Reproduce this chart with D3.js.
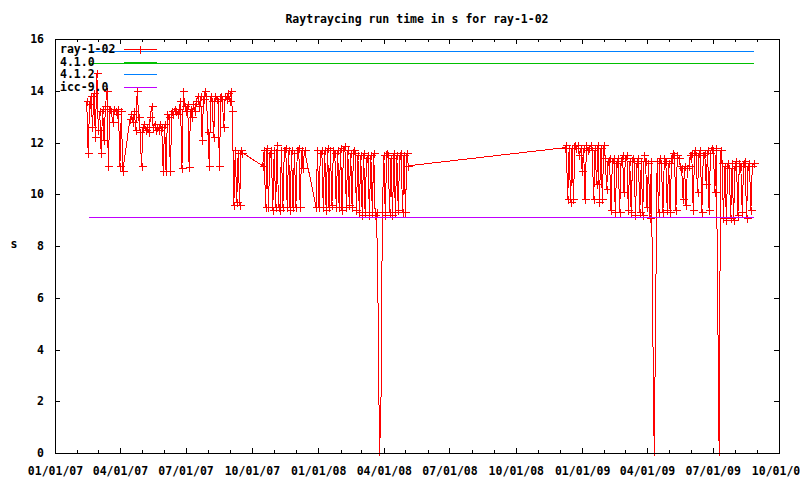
<!DOCTYPE html>
<html>
<head>
<meta charset="utf-8">
<script src="https://cdn.jsdelivr.net/npm/d3@7"></script>
<style>
  body { margin: 0; background: #fff; }
  svg { display: block; }
  text { font-family: "DejaVu Sans Mono", "Liberation Mono", monospace; font-size: 11.5px; font-weight: bold; fill: #000; }
  .axis path, .axis line { stroke: #000; shape-rendering: crispEdges; }
</style>
</head>
<body>
<div id="chart"></div>
<script>
// nightly runs, one value every 2 days inside each block
var blockStarts = ["2007-02-14", "2007-04-15", "2007-10-16", "2007-12-29", "2008-12-08"];
var stepDays = 2;

var runsA1 = [13.6, 11.6, 13.5, 13.8, 12.6, 13.9, 12.2, 14.7, 12.5, 13.2, 11.6, 13.3, 12.1,
  13.4, 14.0, 11.1, 13.3, 13.2, 12.8, 13.3, 13.2, 13.1, 13.3, 11.1, 13.2, 10.9];

var runsA2 = [12.9, 13.1, 12.8, 13.2, 12.5, 14.0, 13.0, 12.4, 11.1, 12.6, 12.7, 12.5, 12.6,
  12.4, 13.0, 13.4, 12.6, 12.7, 12.5, 12.6, 12.5, 12.7, 12.6, 10.9, 12.7, 10.9, 13.1,
  13.0, 10.9, 13.2, 13.1, 13.3, 13.2, 13.1, 13.3, 13.6, 11.0, 14.0, 13.4, 13.2, 13.5,
  11.05, 13.3, 13.0, 13.5, 13.2, 13.6, 13.8, 13.4, 13.8, 12.1, 13.7, 14.0, 13.8, 12.4,
  11.1, 13.8, 13.6, 12.2, 13.8, 13.7, 13.6, 11.1, 13.8, 13.7, 12.6, 13.8, 13.7, 13.9,
  13.6, 14.0, 13.2, 9.6, 11.7, 9.7, 11.6, 9.6, 11.7, 11.6];

var runsB = [11.1, 11.7, 9.5, 11.8, 9.5, 11.6, 11.7, 9.4, 11.7, 9.5, 11.9, 9.5, 9.4, 11.7,
  9.5, 11.7, 11.8, 9.5, 11.7, 9.4, 11.7, 9.5, 11.6, 9.5, 11.7, 11.8, 9.5, 11.7, 11.0, 11.7];

var runsC = [9.5, 11.7, 9.5, 11.6, 11.7, 9.5, 11.7, 9.4, 11.8, 9.5, 11.7, 9.6, 11.7, 11.6,
  9.5, 11.7, 9.5, 11.8, 9.4, 11.7, 11.85, 9.5, 11.7, 9.6, 11.6, 9.5, 11.7, 11.6, 9.4,
  11.5, 9.3, 11.5, 9.2, 11.6, 9.3, 11.4, 11.5, 9.2, 11.5, 9.3, 11.6, 9.2, 9.3, 5.7,
  -0.1, 1.8, 9.3, 11.5, 9.2, 11.6, 11.5, 9.3, 11.4, 9.2, 11.6, 9.3, 11.5, 9.4, 11.5,
  11.6, 9.3, 11.5, 9.3, 11.6, 11.1];

var runsD = [11.8, 11.9, 9.8, 11.8, 9.7, 11.8, 9.8, 11.9, 11.8, 11.9, 11.5, 11.8, 10.9,
  11.8, 9.8, 11.9, 11.7, 11.8, 11.9, 11.7, 9.8, 11.8, 10.4, 11.9, 9.7, 11.8, 9.8, 11.9,
  11.4, 10.2, 11.3, 11.4, 9.4, 11.3, 11.4, 9.3, 11.2, 11.4, 9.3, 11.3, 11.5, 10.1, 11.4,
  11.5, 9.4, 11.3, 9.3, 11.4, 11.3, 9.2, 11.2, 11.4, 9.3, 11.3, 9.2, 11.5, 11.3, 9.5,
  11.2, 9.1, 11.3, 4.8, -0.1, 5.6, 11.3, 9.3, 11.4, 11.2, 9.3, 11.4, 11.3, 9.4, 11.2,
  9.3, 11.4, 11.6, 11.5, 9.4, 11.5, 11.4, 11.1, 11.0, 9.8, 11.1, 9.6, 11.0, 11.1, 11.5,
  11.6, 9.4, 11.7, 11.5, 10.1, 11.6, 11.7, 9.3, 11.5, 11.6, 10.4, 11.7, 9.4, 11.6, 11.8,
  11.7, 10.1, 11.8, 5.8, -0.1, 11.7, 11.2, 9.1, 11.1, 9.0, 11.2, 11.0, 9.1, 11.2, 9.0,
  11.1, 11.3, 9.2, 11.2, 11.1, 9.3, 11.2, 11.3, 9.1, 11.1, 11.2, 9.4, 11.1, 11.2];

var runBlocks = [runsA1, runsA2, runsB, runsC, runsD];

// compiler reference times (constant lines)
var refNames = ["4.1.0", "4.1.2", "icc-9.0"];
var refValues = [15.07, 15.52, 9.11];
var refRange = ["2007-02-17", "2009-08-27"];

var legendNames = ["ray-1-02", "4.1.0", "4.1.2", "icc-9.0"];
var colors = ["#ff0000", "#00c000", "#0080ff", "#c000ff"];

var xTicks = ["2007-01-01", "2007-04-01", "2007-07-01", "2007-10-01", "2008-01-01", "2008-04-01",
  "2008-07-01", "2008-10-01", "2009-01-01", "2009-04-01", "2009-07-01", "2009-10-01"];
var yTicks = [0, 2, 4, 6, 8, 10, 12, 14, 16];

var parse = d3.timeParse("%Y-%m-%d");

var width = 800, height = 480;
var margin = { top: 39, right: 21, bottom: 27, left: 55 };

var x = d3.scaleTime()
  .domain([parse("2007-01-01"), parse("2009-10-01")])
  .range([margin.left, width - margin.right]);

var y = d3.scaleLinear()
  .domain([0, 16])
  .range([height - margin.bottom, margin.top]);

var runData = [];
runBlocks.forEach(function (vals, b) {
  var start = parse(blockStarts[b]);
  vals.forEach(function (v, i) {
    runData.push({ date: d3.timeDay.offset(start, i * stepDays), value: v });
  });
});

var svg = d3.select("#chart").append("svg")
  .attr("width", width)
  .attr("height", height);

svg.append("rect").attr("width", width).attr("height", height).attr("fill", "#fff");

// title and y label
svg.append("text")
  .attr("x", (margin.left + width - margin.right) / 2)
  .attr("y", 23)
  .attr("text-anchor", "middle")
  .text("Raytraycing run time in s for ray-1-02");

svg.append("text")
  .attr("x", 14)
  .attr("y", 248)
  .attr("text-anchor", "middle")
  .text("s");

// axes, ticks pointing inward and mirrored
var fmt = d3.timeFormat("%m/%d/%y");
var minor = d3.timeMonth.range(x.domain()[0], x.domain()[1]);

var xb = svg.append("g").attr("class", "axis")
  .attr("transform", "translate(0," + (height - margin.bottom) + ")")
  .call(d3.axisBottom(x).tickValues(xTicks.map(parse)).tickFormat(fmt).tickSize(-5).tickPadding(14));
xb.select(".domain").remove();

svg.append("g").attr("class", "axis")
  .attr("transform", "translate(0," + (height - margin.bottom) + ")")
  .call(d3.axisBottom(x).tickValues(minor).tickFormat("").tickSize(-3))
  .select(".domain").remove();

svg.append("g").attr("class", "axis")
  .attr("transform", "translate(0," + margin.top + ")")
  .call(d3.axisTop(x).tickValues(xTicks.map(parse)).tickFormat("").tickSize(-5))
  .select(".domain").remove();

svg.append("g").attr("class", "axis")
  .attr("transform", "translate(0," + margin.top + ")")
  .call(d3.axisTop(x).tickValues(minor).tickFormat("").tickSize(-3))
  .select(".domain").remove();

var yl = svg.append("g").attr("class", "axis")
  .attr("transform", "translate(" + margin.left + ",0)")
  .call(d3.axisLeft(y).tickValues(yTicks).tickSize(-5).tickPadding(11));
yl.select(".domain").remove();

svg.append("g").attr("class", "axis")
  .attr("transform", "translate(" + (width - margin.right) + ",0)")
  .call(d3.axisRight(y).tickValues(yTicks).tickFormat("").tickSize(-5))
  .select(".domain").remove();

svg.selectAll(".axis text").attr("font-family", null).attr("font-size", null);

// series
var line = d3.line()
  .x(function (d) { return x(d.date); })
  .y(function (d) { return y(d.value); });

svg.append("path")
  .datum(runData)
  .attr("fill", "none")
  .attr("stroke", colors[0])
  .attr("stroke-width", 1)
  .style("shape-rendering", "crispEdges")
  .attr("d", line);

function plus(px, py) {
  return "M" + (px - 4) + "," + py + "H" + (px + 4) + "M" + px + "," + (py - 4) + "V" + (py + 4);
}

// the crash runs (far below the usual band) show no point symbol in the original
svg.selectAll(".pt")
  .data(runData.filter(function (d) { return d.value > 7; }))
  .enter().append("path")
  .attr("class", "pt")
  .attr("fill", "none")
  .attr("stroke", colors[0])
  .style("shape-rendering", "crispEdges")
  .attr("d", function (d) { return plus(Math.round(x(d.date)) + 0.5, Math.round(y(d.value)) + 0.5); });

refValues.forEach(function (v, i) {
  var refData = refRange.map(function (s) { return { date: parse(s), value: v }; });
  svg.append("path")
    .datum(refData)
    .attr("fill", "none")
    .attr("stroke", colors[i + 1])
    .style("shape-rendering", "crispEdges")
    .attr("d", line);
});

// border
svg.append("rect")
  .attr("x", margin.left + 0.5)
  .attr("y", margin.top + 0.5)
  .attr("width", width - margin.left - margin.right)
  .attr("height", height - margin.top - margin.bottom)
  .attr("fill", "none")
  .attr("stroke", "#000")
  .style("shape-rendering", "crispEdges");

// legend
var legend = svg.selectAll(".key")
  .data(legendNames)
  .enter().append("g")
  .attr("class", "key")
  .attr("transform", function (d, i) { return "translate(0," + (49 + i * 12.7) + ")"; });

legend.append("text")
  .attr("x", 60)
  .attr("y", 4)
  .text(function (d) { return d; });

legend.append("line")
  .attr("x1", 124).attr("x2", 157)
  .attr("y1", 0.5).attr("y2", 0.5)
  .attr("stroke", function (d, i) { return colors[i]; })
  .style("shape-rendering", "crispEdges");

legend.filter(function (d, i) { return i === 0; })
  .append("path")
  .attr("fill", "none")
  .attr("stroke", colors[0])
  .style("shape-rendering", "crispEdges")
  .attr("d", plus(140.5, 0.5));
</script>
</body>
</html>
